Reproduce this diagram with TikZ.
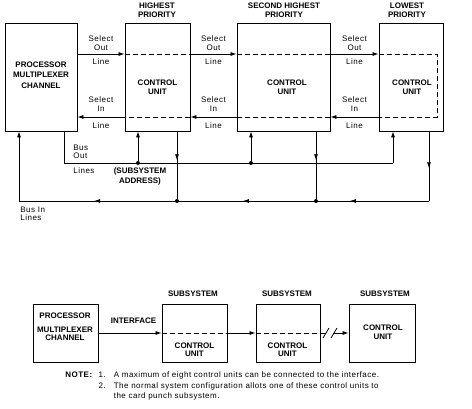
\documentclass[tikz,border=0pt]{standalone}
\usepackage{fontspec}
\setmainfont{Liberation Sans}
\usetikzlibrary{arrows.meta,decorations.markings}
\tikzset{>={Latex[length=6pt,width=4pt]}}
\tikzset{
  unitbox/.style = {draw, line width=0.9pt, inner sep=0pt},
  caps/.style = {font=\fontsize{8}{9.5}\selectfont\bfseries, align=center, inner sep=0pt},
  lbl/.style = {font=\fontsize{8}{8.5}\selectfont\addfontfeatures{LetterSpace=6}, align=center, inner sep=0pt},
  junction/.style = {circle, fill, inner sep=0pt, minimum size=4pt},
  dashline/.style = {dash pattern=on 5pt off 3pt},
  midarrow/.style = {postaction={decorate}, decoration={markings, mark=at position #1 with {\arrow{>}}}}
}

\begin{document}
\begin{tikzpicture}[x=1pt,y=-1pt,line width=0.8pt]
  \useasboundingbox (0,0) rectangle (472,409);
  \pgfmathsetmacro{\selout}{54};
  \pgfmathsetmacro{\selin}{117};
  \pgfmathsetmacro{\busout}{163};
  \pgfmathsetmacro{\busin}{201};
  % upper diagram: channel and control units
  \node[unitbox, minimum width=72pt, minimum height=108pt] (pmc) at (41,77) {};
  \node[unitbox, minimum width=65pt, minimum height=108pt] (cuA) at (157.5,77) {};
  \node[unitbox, minimum width=93pt, minimum height=108pt] (cuB) at (283.5,77) {};
  \node[unitbox, minimum width=64pt, minimum height=108pt] (cuC) at (411,77) {};
  \node[caps, font=\fontsize{8}{10.5}\selectfont\bfseries] (pmctext) at (41,75) {PROCESSOR\\MULTIPLEXER\\CHANNEL};
  \node[caps] (cuAtext) at (157.5,87) {CONTROL\\UNIT};
  \node[caps] (cuBtext) at (287,87) {CONTROL\\UNIT};
  \node[caps] (cuCtext) at (412,87) {CONTROL\\UNIT};
  \node[caps, font=\fontsize{8}{8.5}\selectfont\bfseries] (prioA) at (157,10) {HIGHEST\\PRIORITY};
  \node[caps, font=\fontsize{8}{8.5}\selectfont\bfseries] (prioB) at (284,10) {SECOND HIGHEST\\PRIORITY};
  \node[caps, font=\fontsize{8}{8.5}\selectfont\bfseries] (prioC) at (407,10) {LOWEST\\PRIORITY};
  % select out / select in
  \coordinate (so) at (0,\selout);
  \coordinate (si) at (0,\selin);
  \coordinate (turnA) at (437,\selout);
  \coordinate (turnB) at (437,\selin);
  \draw[->] (pmc.east |- so) -- (cuA.west |- so);
  \draw[dashline] (cuA.west |- so) -- (cuA.east |- so);
  \draw[->] (cuA.east |- so) -- (cuB.west |- so);
  \draw[dashline] (cuB.west |- so) -- (cuB.east |- so);
  \draw[->] (cuB.east |- so) -- (cuC.west |- so);
  \draw[dashline] (cuC.west |- so) -- (turnA) -- (turnB) -- (cuC.west |- si);
  \draw[->] (cuC.west |- si) -- (cuB.east |- si);
  \draw[dashline] (cuB.east |- si) -- (cuB.west |- si);
  \draw[->] (cuB.west |- si) -- (cuA.east |- si);
  \draw[dashline] (cuA.east |- si) -- (cuA.west |- si);
  \draw[->] (cuA.west |- si) -- (pmc.east |- si);
  \foreach \x/\n in {101/a,213.5/b,354.5/c}{
    \node[lbl] (selout\n) at (\x,43) {Select\\Out};
    \node[lbl] (soline\n) at (\x,62) {Line};
    \node[lbl] (selin\n) at (\x,104) {Select\\In};
    \node[lbl] (siline\n) at (\x,126) {Line};
  }
  % bus out and bus in lines
  \coordinate (binL) at (19,\busin);
  \coordinate (binR) at (429,\busin);
  \coordinate (boutL) at (64,\busout);
  \coordinate (boutR) at (393,\busout);
  \coordinate (downA) at (177,\busin);
  \coordinate (downB) at (316,\busin);
  \node[junction] (jA) at (138,\busout) {};
  \node[junction] (jB) at (251,\busout) {};
  \node[junction] (kA) at (downA) {};
  \node[junction] (kB) at (downB) {};
  \draw (pmc.south -| boutL) -- (boutL) -- (boutR);
  \draw[->] (boutR) -- (cuC.south -| boutR);
  \draw[->] (jA) -- (cuA.south -| jA);
  \draw[->] (jB) -- (cuB.south -| jB);
  \draw[midarrow=0.43] (cuA.south -| kA) -- (kA);
  \draw[midarrow=0.43] (cuB.south -| kB) -- (kB);
  \draw[midarrow=0.53] (cuC.south -| binR) -- (binR);
  \draw[postaction={decorate}, decoration={markings,
      mark=at position 0.193 with {\arrow{>}},
      mark=at position 0.454 with {\arrow{>}},
      mark=at position 0.817 with {\arrow{>}}}] (binR) -- (binL);
  \draw[->] (binL) -- (pmc.south -| binL);
  \node[lbl, align=left, anchor=west] (busout) at (73,152) {Bus\\Out};
  \node[lbl, anchor=west] (buslines) at (73,170.5) {Lines};
  \node[caps, font=\fontsize{8}{10}\selectfont\bfseries] (address) at (140,176) {(SUBSYSTEM\\ADDRESS)};
  \node[lbl, align=left, anchor=west] (busin) at (20,214) {Bus In\\Lines};
  % lower diagram: interface
  \node[unitbox, minimum width=65pt, minimum height=58pt] (pmcB) at (65.5,333) {};
  \node[unitbox, minimum width=65pt, minimum height=58pt] (subA) at (194.5,333) {};
  \node[unitbox, minimum width=64pt, minimum height=58pt] (subB) at (288,333) {};
  \node[unitbox, minimum width=66pt, minimum height=58pt] (subC) at (382,333) {};
  \node[caps] (proc) at (65,316) {PROCESSOR};
  \node[caps, font=\fontsize{8}{8.5}\selectfont\bfseries] (mpx) at (65,334) {MULTIPLEXER\\CHANNEL};
  \node[caps] (iface) at (133.5,321) {INTERFACE};
  \node[caps] (subAhead) at (193,294) {SUBSYSTEM};
  \node[caps] (subBhead) at (287,294) {SUBSYSTEM};
  \node[caps] (subChead) at (385,294) {SUBSYSTEM};
  \node[caps, font=\fontsize{8}{8}\selectfont\bfseries] (subAtext) at (194.5,349.5) {CONTROL\\UNIT};
  \node[caps, font=\fontsize{8}{8}\selectfont\bfseries] (subBtext) at (287.5,349.5) {CONTROL\\UNIT};
  \node[caps, font=\fontsize{8}{9}\selectfont\bfseries] (subCtext) at (383,332) {CONTROL\\UNIT};
  \coordinate (brkA) at (326,333);
  \coordinate (brkB) at (334,333);
  \draw[->] (pmcB) -- (subA.west);
  \draw[dashline] (subA.west) -- (subA.east);
  \draw[->] (subA.east) -- (subB.west);
  \draw[dashline] (subB.west) -- (subB.east);
  \draw (subB.east) -- (brkA);
  \draw (323,338) -- (329,328);
  \draw (331,338) -- (337,328);
  \draw[->] (brkB) -- (subC.west);
  % notes
  \node[lbl, anchor=north west, font=\fontsize{8}{10.5}\selectfont\addfontfeatures{LetterSpace=6}] (notes) at (65,370)
    {\begin{tabular}{@{}l@{\hspace{6pt}}r@{\hspace{8pt}}l@{}}
     \textbf{NOTE:} & 1. & A maximum of eight control units can be connected to the interface.\\
      & 2. & The normal system configuration allots one of these control units to\\
      & & the card punch subsystem.
     \end{tabular}};
\end{tikzpicture}
\end{document}
